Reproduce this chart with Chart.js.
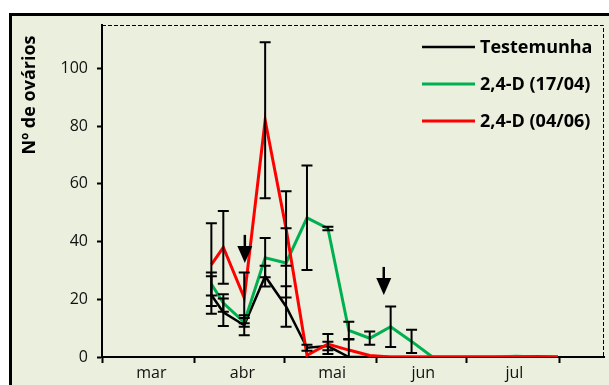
<!DOCTYPE html>
<html>
<head>
<meta charset="utf-8">
<script src="https://cdn.jsdelivr.net/npm/chart.js@4"></script>
<style>
  html, body { margin: 0; padding: 0; background: #fff; overflow: hidden; }
  #moldura { position: absolute; left: 9px; top: 13px; width: 700px; height: 500px; border: 3px solid #000; background: #EBEFDE; }
  #wrap { position: absolute; left: 0; top: 0; width: 609px; height: 385px; }
</style>
</head>
<body>
<div id="moldura"></div>
<div id="wrap"><canvas id="grafico" width="609" height="385"></canvas></div>
<script>
// dias contados a partir de 1 de março
const dias = [36.6, 40.6, 47.6, 54.6, 61.6, 68.6, 75.6, 82.6, 89.6, 96.6, 103.6, 110.6, 117.6, 124.6, 131.6, 138.6, 145.6, 152.6];

const testemunha    = [21.5, 15.5, 11, 28, 17.5, 3.2, 3.8, 0, 0, 0, 0, 0, 0, 0, 0, 0, 0, 0];
const testemunhaErr = [6.5, 4.8, 3.5, 3.6, 7, 1, 1.5, 0, 0, 0, 0, 0, 0, 0, 0, 0, 0, 0];

const d1704    = [25.3, 18.7, 12, 34.4, 32.6, 48.2, 44.5, 9.2, 6.5, 10.5, 5.4, 0, 0, 0, 0, 0.3, 0, 0];
const d1704Err = [4, 3, 1.5, 6.8, 12, 18.1, 0.6, 3, 2.3, 7, 4, 0, 0, 0, 0, 0, 0, 0];

const d0406    = [32, 38, 20.5, 82, 44.5, 0.6, 4.5, 2.4, 0.5, 0, 0, 0, 0, 0, 0, 0, 0.2, 0];
const d0406Err = [14.3, 12.6, 8.8, 27, 12.9, 0, 3.5, 3.7, 0, 0, 0, 0, 0, 0, 0, 0, 0, 0];

// limites dos meses e posição dos rótulos
const mesesLimites = [0, 31, 61, 92, 122, 153];
const mesesPos = [16.5, 47, 77, 107.5, 138];
const meses = ['mar', 'abr', 'mai', 'jun', 'jul'];

// aplicações de 2,4-D (setas)
const setaDias = [47.8, 94.3];
const setaPonta = [32.6, 21.5];

const fonte = "'Open Sans', 'Noto Sans', sans-serif";

const series = [
  { label: 'Testemunha', data: testemunha, err: testemunhaErr, cor: '#000000', order: 2 },
  { label: '2,4-D (17/04)', data: d1704, err: d1704Err, cor: '#00B050', order: 1 },
  { label: '2,4-D (04/06)', data: d0406, err: d0406Err, cor: '#FF0000', order: 0 }
];

const extras = {
  id: 'extras',
  beforeDatasetsDraw(chart) {
    const { ctx, chartArea: a } = chart;
    ctx.save();
    ctx.strokeStyle = '#000';
    ctx.lineWidth = 1;
    ctx.setLineDash([4, 2]);
    ctx.beginPath();
    ctx.moveTo(a.left, a.top + 0.5);
    ctx.lineTo(a.right - 0.5, a.top + 0.5);
    ctx.lineTo(a.right - 0.5, a.bottom);
    ctx.stroke();
    ctx.restore();
  },
  afterDatasetsDraw(chart) {
    const { ctx, scales: { x, y } } = chart;
    ctx.save();
    ctx.strokeStyle = '#000';
    ctx.lineWidth = 2;
    series.forEach(s => {
      s.data.forEach((v, i) => {
        const e = s.err[i];
        if (!e) return;
        const px = x.getPixelForValue(dias[i]);
        const top = y.getPixelForValue(v + e);
        const bot = y.getPixelForValue(Math.max(v - e, 0));
        ctx.beginPath();
        ctx.moveTo(px, top); ctx.lineTo(px, bot);
        ctx.moveTo(px - 5.5, top); ctx.lineTo(px + 5.5, top);
        ctx.moveTo(px - 5.5, bot); ctx.lineTo(px + 5.5, bot);
        ctx.stroke();
      });
    });
    // setas
    ctx.fillStyle = '#000';
    ctx.lineWidth = 2.5;
    setaDias.forEach((d, i) => {
      const px = x.getPixelForValue(d);
      const tip = y.getPixelForValue(setaPonta[i]);
      ctx.beginPath();
      ctx.moveTo(px, tip - 28); ctx.lineTo(px, tip - 16);
      ctx.stroke();
      ctx.beginPath();
      ctx.moveTo(px - 7.5, tip - 17);
      ctx.lineTo(px + 7.5, tip - 17);
      ctx.lineTo(px, tip);
      ctx.closePath();
      ctx.fill();
    });
    ctx.restore();
  },
  afterDraw(chart) {
    const { ctx, chartArea: a } = chart;
    ctx.save();
    // legenda
    ctx.font = "bold 18px " + fonte;
    ctx.textBaseline = 'middle';
    ctx.fillStyle = '#000';
    chart.data.datasets.forEach((ds, i) => {
      const ly = a.top + 22 + i * 37;
      const lx = a.right - 182;
      ctx.strokeStyle = ds.borderColor;
      ctx.lineWidth = ds.borderWidth;
      ctx.beginPath();
      ctx.moveTo(lx, ly); ctx.lineTo(lx + 53, ly);
      ctx.stroke();
      ctx.fillText(ds.label, lx + 58, ly + 1);
    });
    // título do eixo y
    ctx.translate(30, 95);
    ctx.rotate(-Math.PI / 2);
    ctx.textAlign = 'center';
    ctx.fillText('Nº de ovários', 0, 0);
    ctx.restore();
  }
};

const ticksX = mesesLimites.concat(mesesPos).sort((a, b) => a - b);

new Chart(document.getElementById('grafico'), {
  type: 'line',
  data: {
    datasets: series.map(s => ({
      label: s.label,
      data: s.data.map((v, i) => ({ x: dias[i], y: v })),
      borderColor: s.cor,
      backgroundColor: s.cor,
      borderWidth: s.cor === '#000000' ? 2.5 : 3,
      pointRadius: 0,
      tension: 0,
      order: s.order
    }))
  },
  options: {
    responsive: false,
    devicePixelRatio: 1,
    animation: false,
    layout: { padding: { left: 0, top: 25, right: 5, bottom: 0 } },
    plugins: { legend: { display: false }, tooltip: { enabled: false } },
    scales: {
      x: {
        type: 'linear', min: 0, max: 168,
        afterBuildTicks: s => { s.ticks = ticksX.map(v => ({ value: v })); },
        afterFit: s => { s.height = 28; },
        ticks: {
          autoSkip: false, maxRotation: 0, padding: 1,
          color: '#111', font: { family: fonte, size: 16 },
          callback: v => { const k = mesesPos.indexOf(v); return k >= 0 ? meses[k] : ''; }
        },
        grid: {
          drawOnChartArea: false, tickLength: 6, tickWidth: 2,
          tickColor: c => mesesLimites.includes(c.tick.value) ? '#000' : 'rgba(0,0,0,0)'
        },
        border: { color: '#000', width: 2 }
      },
      y: {
        min: 0, max: 115,
        afterFit: s => { s.width = 102; },
        ticks: { stepSize: 20, includeBounds: false, padding: 9, color: '#111', font: { family: fonte, size: 16 } },
        grid: { drawOnChartArea: false, tickLength: 5, tickWidth: 2, tickColor: '#000' },
        border: { color: '#000', width: 2 }
      }
    }
  },
  plugins: [extras]
});
</script>
</body>
</html>
